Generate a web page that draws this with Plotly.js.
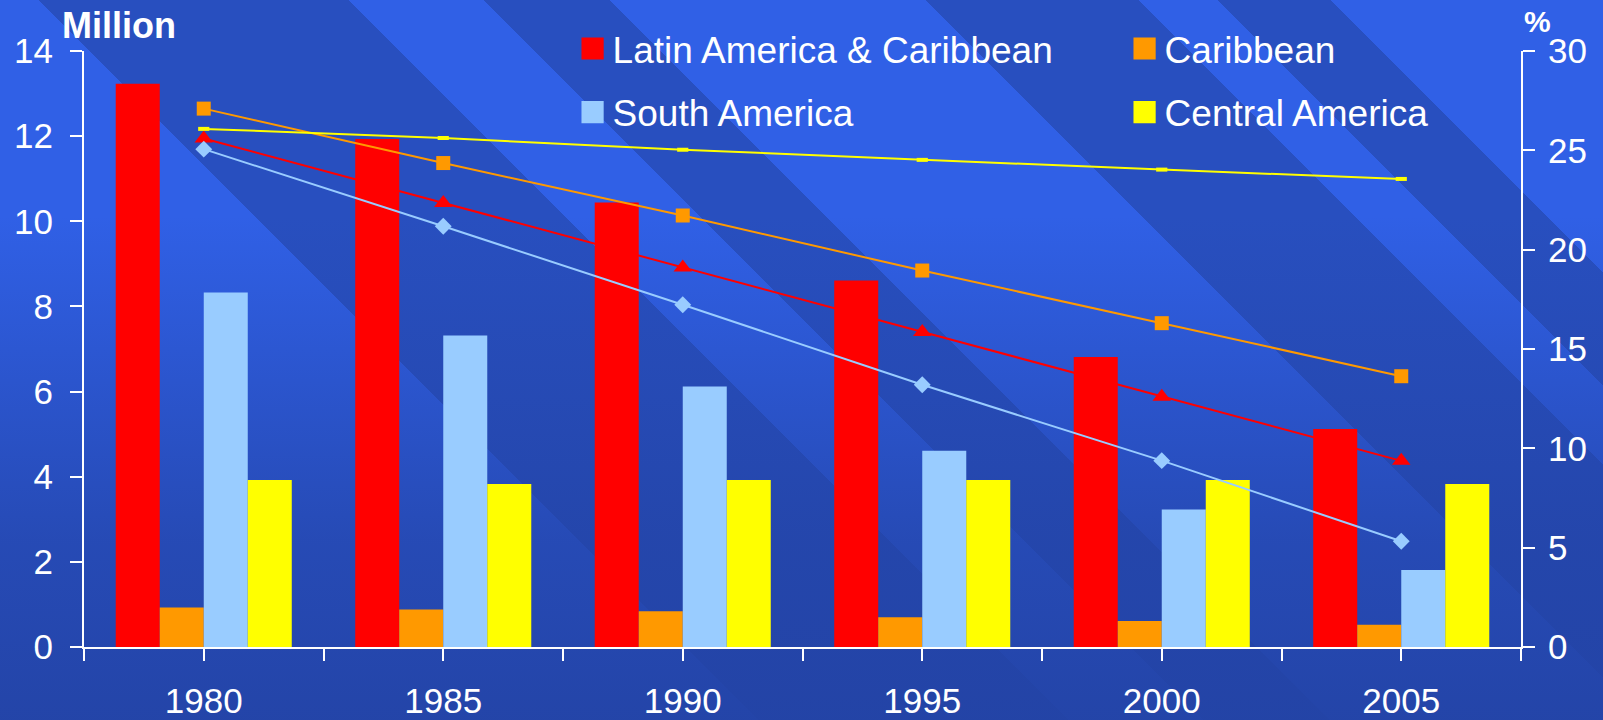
<!DOCTYPE html>
<html>
<head>
<meta charset="utf-8">
<script src="https://cdn.plot.ly/plotly-3.0.1.min.js"></script>
<style>
  html, body { margin: 0; padding: 0; background: #2446aa; }
  /* diagonal banded backdrop that fades into a deep blue toward the bottom */
  #chart {
    width: 1603px; height: 720px;
    background:
      linear-gradient(to bottom, rgba(35,67,165,0) 0%, rgba(35,67,165,0) 30%, rgba(35,67,165,0.75) 75%, rgba(35,67,165,0.95) 100%),
      linear-gradient(45deg,
        #3060e6 0%, #3060e6 32.67%,
        #284fbf 32.67%, #284fbf 45.98%,
        #3060e6 45.98%, #3060e6 51.79%,
        #284fbf 51.79%, #284fbf 57.25%,
        #3060e6 57.25%, #3060e6 70.82%,
        #284fbf 70.82%, #284fbf 80.01%,
        #3060e6 80.01%, #3060e6 83.39%,
        #284fbf 83.39%, #284fbf 88.29%,
        #3060e6 88.29%, #3060e6 100%);
  }
</style>
</head>
<body>
<div id="chart"></div>
<script>
// Years on the category axis
const years = [1980, 1985, 1990, 1995, 2000, 2005];

// Series names and colours
const seriesNames = ['Latin America & Caribbean', 'Caribbean', 'South America', 'Central America'];
const seriesColors = ['#FF0000', '#FF9900', '#99CCFF', '#FFFF00'];

// Bars: number of people (million), left axis
const millionsLAC       = [13.23, 11.93, 10.44, 8.61, 6.81, 5.12];
const millionsCaribbean = [0.93, 0.88, 0.84, 0.70, 0.61, 0.52];
const millionsSouth     = [8.33, 7.32, 6.12, 4.61, 3.23, 1.81];
const millionsCentral   = [3.92, 3.83, 3.92, 3.92, 3.92, 3.83];

// Lines: share of the population (%), right axis
const pctLAC       = [25.60, 22.35, 19.10, 15.85, 12.60, 9.37];
const pctCaribbean = [27.10, 24.36, 21.72, 18.95, 16.30, 13.63];
const pctSouth     = [25.06, 21.18, 17.23, 13.20, 9.38, 5.32];
const pctCentral   = [26.08, 25.62, 25.03, 24.52, 24.03, 23.56];

const millions = [millionsLAC, millionsCaribbean, millionsSouth, millionsCentral];
const percents = [pctLAC, pctCaribbean, pctSouth, pctCentral];
const legendRows = ['legend', 'legend', 'legend2', 'legend2'];
const lineMarkers = [
  { symbol: 'triangle-up', size: 16 },
  { symbol: 'square', size: 14 },
  { symbol: 'diamond', size: 13 },
  { symbol: 'line-ew-open', size: 8 }
];

// tick marks at each year and halfway between years; only years are labelled
const halfStep = (years[1] - years[0]) / 2;
const tickVals = [years[0] - halfStep];
const tickText = [''];
years.forEach(y => { tickVals.push(y, y + halfStep); tickText.push(String(y), ''); });

const FONT = 'Liberation Sans, Arial, Helvetica, sans-serif';
const WHITE = '#FFFFFF';

const traces = [];
seriesNames.forEach((name, i) => {
  traces.push({
    type: 'bar', name: name, x: years, y: millions[i],
    marker: { color: seriesColors[i], line: { width: 0 } },
    legend: legendRows[i], hoverinfo: 'skip'
  });
});
seriesNames.forEach((name, i) => {
  const mk = lineMarkers[i];
  traces.push({
    type: 'scatter', mode: 'lines+markers', name: name + ' (%)',
    x: years, y: percents[i], yaxis: 'y2', showlegend: false,
    line: { color: seriesColors[i], width: 2 },
    marker: mk.symbol === 'line-ew-open'
      ? { symbol: mk.symbol, size: mk.size, line: { color: seriesColors[i], width: 4 } }
      : { symbol: mk.symbol, size: mk.size, color: seriesColors[i] },
    hoverinfo: 'skip', cliponaxis: false
  });
});

const tickFont = { family: FONT, size: 35, color: WHITE };
const axisBase = {
  showgrid: false, zeroline: false, showline: true, linecolor: WHITE, linewidth: 2,
  ticks: 'outside', ticklen: 12, tickwidth: 2, tickcolor: WHITE, tickfont: tickFont
};
const innerTicks = {
  overlaying: 'y', anchor: 'x', showgrid: false, zeroline: false, showline: false,
  ticks: 'inside', ticklen: 12, tickwidth: 2, tickcolor: WHITE, showticklabels: false
};

const legendBase = {
  orientation: 'h', xanchor: 'left', yanchor: 'middle',
  entrywidth: 507, entrywidthmode: 'pixels',
  font: { family: FONT, size: 37, color: WHITE },
  bgcolor: 'rgba(0,0,0,0)', borderwidth: 0, itemclick: false, itemdoubleclick: false
};

const layout = {
  width: 1603, height: 720,
  margin: { l: 84, r: 82, t: 51, b: 73, pad: 0, autoexpand: false },
  paper_bgcolor: 'rgba(0,0,0,0)', plot_bgcolor: 'rgba(0,0,0,0)',
  font: { family: FONT, color: WHITE },
  barmode: 'group', bargap: 0.265, bargroupgap: 0,
  xaxis: Object.assign({}, axisBase, {
    range: [years[0] - halfStep, years[years.length - 1] + halfStep],
    tickmode: 'array', tickvals: tickVals, ticktext: tickText,
    ticklabelstandoff: 10
  }),
  yaxis: Object.assign({}, axisBase, { range: [0, 14], dtick: 2, tick0: 0, ticklabelstandoff: 10 }),
  yaxis2: Object.assign({}, axisBase, {
    overlaying: 'y', side: 'right', anchor: 'x', range: [0, 30], dtick: 5, tick0: 0, ticklabelstandoff: 6
  }),
  yaxis3: Object.assign({}, innerTicks, { side: 'left', range: [0, 14], dtick: 2, tick0: 0 }),
  yaxis4: Object.assign({}, innerTicks, { side: 'right', range: [0, 30], dtick: 5, tick0: 0 }),
  legend: Object.assign({}, legendBase, { x: 0.340, y: 1.0034 }),
  legend2: Object.assign({}, legendBase, { x: 0.340, y: 0.8968 }),
  annotations: [
    { text: '<b>Million</b>', xref: 'paper', yref: 'paper', x: -0.0167, y: 1.0436,
      xanchor: 'left', yanchor: 'middle', showarrow: false,
      font: { family: FONT, size: 36, color: WHITE } },
    { text: '<b>%</b>', xref: 'paper', yref: 'paper', x: 1.0118, y: 1.0487,
      xanchor: 'center', yanchor: 'middle', showarrow: false,
      font: { family: FONT, size: 30, color: WHITE } }
  ],
  showlegend: true
};

Plotly.newPlot('chart', traces, layout, { displayModeBar: false, staticPlot: true }).then(() => {
  // enlarge the legend swatches
  document.querySelectorAll('.legendpoints path').forEach(p => {
    const t = p.getAttribute('transform') || '';
    p.setAttribute('transform', t + ' scale(1.85)');
  });
});
</script>
</body>
</html>
